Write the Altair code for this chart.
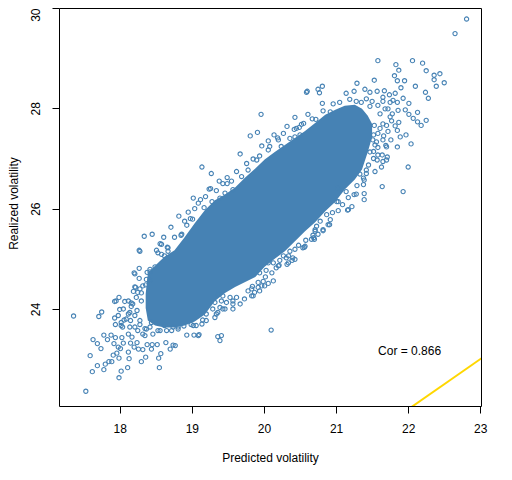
import altair as alt
import pandas as pd

# Scatter points (predicted, realized): scattered outer points
pred = [17.36,17.53,17.62,17.59,17.69,17.78,17.63,17.69,17.74,17.71,17.75,17.78,17.83,17.85,17.89,17.91,17.80,17.99,18.02,18.11,
        17.99,17.96,18.12,18.13,17.93,17.93,17.99,18.00,17.94,18.02,18.04,18.06,17.88,17.92,17.94,18.03,18.05,17.98,18.01,18.15,
        18.17,18.20,18.24,18.26,18.30,18.36,18.38,18.45,18.52,18.44,18.32,18.54,18.55,18.57,18.64,18.70,18.74,18.77,18.93,19.03,
        19.10,19.36,19.39,20.10,18.07,18.12,18.16,18.19,18.21,18.20,18.27,18.27,18.27,18.34,18.45,18.23,18.30,18.36,18.42,18.42,
        18.56,18.51,18.61,18.71,18.82,18.85,18.98,19.04,18.93,18.76,18.66,18.58,18.49,18.38,18.28,18.16,18.24,18.28,18.35,18.42,
        18.32,18.21,18.15,18.12,18.46,18.56,18.65,18.74,18.81,18.89,18.99,19.06,19.15,19.20,19.29,19.43,19.57,19.67,19.73,19.85,
        19.94,20.01,20.13,20.17,20.13,19.48,19.57,19.34,19.41,19.83,19.92,19.96,20.43,20.32,19.81,19.91,19.67,19.14,19.27,19.02,
        19.38,19.49,19.49,19.62,19.85,19.97,20.06,20.14,20.27,20.59,20.77,20.81,20.61,20.72,20.52,18.90,19.01,19.19,19.24,19.34,
        19.17,18.86,18.58,18.67,19.76,19.94,20.06,20.19,20.36,20.45,20.55,20.82,20.67,19.55,19.26,19.12,18.95,20.82,20.69,20.57,
        20.40,20.73,20.89,22.81,22.65,21.58,22.06,22.20,21.83,22.25,21.87,21.81,21.85,21.95,22.36,22.44,22.36,22.50,22.39,22.10,
        21.90,22.24,22.28,21.53,21.29,20.81,20.75,20.60,21.14,21.25,21.40,21.57,21.67,21.74,21.82,21.93,22.01,21.85,21.96,22.13,
        22.01,22.07,22.25,22.13,22.18,21.87,21.82,21.85,21.97,21.89,21.76,21.85,22.04,22.00,21.64,21.93,21.63,21.71,21.65,21.58,
        21.58,21.69,21.66,21.72,21.61,21.70,21.77,21.78,21.68,21.75,21.65,21.50,21.47,21.42,21.35,21.28,21.19,21.05,20.96,21.42,
        21.38,21.39,21.39,21.22,21.17,21.03,21.52,21.54,21.56,21.47,21.52,21.45,20.06,19.99,20.02,20.21,20.32,20.39,20.34,20.56,
        20.48,20.70,20.58,20.91,20.92,21.03,20.95,21.16,21.09,21.28,21.25,21.17,21.38,21.29,21.39,21.42,21.33,20.71,20.68,20.36,
        20.27,20.03,19.94,20.06,20.22,20.78,20.87,21.01,21.14,21.03]
real = [23.86,22.36,22.75,23.07,22.87,22.79,23.39,23.31,23.21,23.85,23.94,23.48,23.39,22.95,22.95,23.08,22.90,22.63,22.76,22.83,
        23.02,23.12,23.14,23.01,23.82,24.15,24.23,23.99,23.69,23.73,23.64,23.78,23.48,23.31,23.43,23.43,23.32,23.24,23.21,23.32,
        23.44,23.24,23.33,23.20,22.95,23.04,23.29,23.29,23.29,23.20,23.19,23.02,22.83,23.11,23.33,23.20,23.28,23.27,23.48,23.48,
        23.49,23.45,23.37,23.58,24.15,24.16,24.12,24.35,24.44,24.72,24.81,24.61,25.17,25.45,25.49,24.23,24.32,24.48,24.74,24.57,
        25.30,25.17,25.43,25.63,25.85,25.47,25.80,26.00,25.67,25.43,25.23,25.09,24.84,24.73,24.40,24.05,23.97,23.69,23.61,23.64,
        23.50,23.64,23.77,23.90,23.50,23.57,23.57,23.64,23.60,23.66,23.69,23.67,23.78,23.90,24.00,24.00,24.16,24.10,24.20,24.26,
        24.36,24.46,24.56,24.82,24.92,24.13,24.00,23.90,24.16,24.40,24.53,27.88,27.82,27.64,27.45,27.52,27.09,26.83,26.70,26.21,
        26.55,26.62,26.50,26.74,26.99,27.25,27.17,27.47,27.50,28.32,28.31,28.10,27.88,27.78,27.68,25.75,25.79,26.24,26.39,26.36,
        26.02,25.49,25.29,25.22,26.90,27.05,27.35,27.41,27.40,27.60,27.70,27.95,27.79,26.55,26.40,26.18,25.93,25.56,25.42,25.25,
        25.02,25.65,25.68,29.78,29.49,28.95,28.95,28.90,28.87,28.75,28.76,28.65,28.55,28.55,28.66,28.69,28.57,28.51,28.44,28.44,
        28.41,28.32,28.20,28.56,28.50,28.44,28.38,28.34,28.30,28.34,28.38,28.34,28.35,28.27,28.30,28.20,28.10,28.12,27.97,27.92,
        27.88,27.80,27.76,27.73,27.66,27.72,27.65,27.56,27.47,27.43,27.37,27.23,27.29,26.83,26.44,26.34,26.83,27.03,26.94,27.07,
        27.22,27.26,27.45,27.54,27.60,27.66,27.75,27.89,27.99,28.12,28.14,28.14,28.04,28.19,28.12,28.14,28.18,28.12,28.09,26.77,
        26.61,26.30,26.18,26.04,25.98,26.14,27.47,27.27,27.33,27.13,27.00,26.87,24.51,24.55,24.64,24.87,24.89,24.97,25.06,25.23,
        25.27,25.39,25.37,25.68,25.78,25.96,25.92,25.97,26.08,26.29,26.28,26.22,26.48,26.46,26.57,26.70,26.69,25.55,25.47,25.15,
        25.06,24.77,24.72,24.92,24.97,25.75,25.88,26.14,26.34,26.41]

# Points crowding the edges of the dense core
pred_edge = [18.21,18.22,18.32,18.25,17.95,18.18,18.30,18.05,18.14,17.98,18.09,18.21,18.28,18.02,18.14,18.25,18.37,18.44,18.53,18.62,
             18.72,18.81,19.02,19.09,19.14,19.20,19.32,19.36,19.41,18.35,18.12,18.53,18.62,18.67,18.42,18.37,18.28,
             21.47,21.65,21.79,21.58,21.72,21.86,21.61,21.75,21.65,21.53,21.58,21.51,21.65,21.70,21.52,21.64,21.57,21.70,21.54,20.92,
             20.42,20.49,19.43,19.09,20.08,20.20,20.24,20.43,20.50,19.78,19.90,19.69,19.57,19.46,19.28,19.39,
             19.84,19.78,19.83,19.62,19.53,19.57,19.46,19.39,19.32,19.43,19.36,19.92,20.34,20.43,20.31,20.54,20.66,20.75,20.82,20.71,
             20.43,20.20,20.11,19.97,19.87]
real_edge = [24.70,24.43,24.46,24.33,24.16,24.10,24.16,24.00,23.93,23.87,23.80,23.87,23.77,23.67,23.64,23.57,23.60,23.73,23.57,23.67,
             23.57,23.64,23.67,23.47,23.70,23.77,23.83,23.93,23.47,23.47,23.50,25.12,25.06,25.15,24.79,24.59,25.15,
             28.32,28.22,28.16,28.06,27.99,27.96,27.89,27.83,27.69,27.66,27.50,27.37,27.37,27.23,27.14,27.07,26.97,26.97,26.74,27.93,
             27.58,27.62,26.50,26.11,27.24,27.37,27.24,27.43,27.47,26.77,26.97,26.64,26.38,26.31,26.14,26.21,
             24.45,24.36,24.26,24.23,24.23,24.10,24.00,24.03,24.13,24.26,24.30,24.43,24.92,24.99,25.02,25.22,25.39,25.49,25.58,25.58,
             25.19,24.86,24.72,24.46,24.33]

# Dense core of the cloud (where the circles merge into a solid mass)
core_x  = [18.36,18.39,18.49,18.62,18.76,18.90,19.04,19.18,19.32,19.46,19.60,19.74,19.88,20.01,20.15,20.29,20.43,20.57,20.71,20.85,
           20.99,21.12,21.26,21.36,21.44,21.50]
core_lo = [24.02,23.77,23.67,23.63,23.63,23.67,23.75,23.89,24.16,24.32,24.44,24.54,24.64,24.84,25.00,25.15,25.35,25.55,25.73,25.95,
           26.14,26.38,26.58,26.78,27.13,27.43]
core_hi = [24.30,24.72,24.86,25.04,25.17,25.43,25.71,25.97,26.17,26.28,26.42,26.62,26.80,26.98,27.13,27.27,27.41,27.55,27.71,27.87,
           27.97,28.05,28.07,27.99,27.85,27.69]

# 45-degree reference line and annotation
diag_x = [22.0, 23.1]
diag_y = [22.0, 23.1]
cor_label = ["Cor = 0.866"]
cor_x = [22.02]
cor_y = [23.17]

x_ticks = [18, 19, 20, 21, 22, 23]
y_ticks = [24, 26, 28, 30]

BLUE = "#4682B4"
FONT = "Liberation Sans"

xscale = alt.Scale(domain=[17.158, 23.01], nice=False, zero=False)
yscale = alt.Scale(domain=[22.066, 30.0], nice=False, zero=False)

xaxis = alt.Axis(values=x_ticks, format="d", title="Predicted volatility", domain=False, grid=False,
                 tickSize=7, tickColor="black", tickWidth=1, labelColor="black", labelFont=FONT,
                 labelFontSize=12, labelPadding=10, labelFlush=False, titleFont=FONT, titleFontSize=12,
                 titleFontWeight="normal", titleColor="black", titleY=55, titleBaseline="alphabetic")
yaxis = alt.Axis(values=y_ticks, format="d", title="Realized volatility", domain=False, grid=False,
                 tickSize=7, tickColor="black", tickWidth=1, labelColor="black", labelFont=FONT,
                 labelFontSize=12, labelPadding=10, labelFlush=False, labelAngle=270,
                 labelAlign={"condition": {"test": "datum.value >= 30", "value": "right"}, "value": "center"},
                 labelBaseline="bottom", titleFont=FONT, titleFontSize=12, titleFontWeight="normal",
                 titleColor="black", titleAngle=270, titleAlign="center", titleBaseline="alphabetic",
                 titleX=-42, titleY=195)

pts_df = pd.DataFrame({"x": pred + pred_edge, "y": real + real_edge})
core_df = pd.DataFrame({"x": core_x, "y": core_lo, "y2": core_hi})
diag_df = pd.DataFrame({"x": diag_x, "y": diag_y})
txt_df = pd.DataFrame({"x": cor_x, "y": cor_y, "t": cor_label})

X = alt.X("x:Q", scale=xscale, axis=xaxis)
Y = alt.Y("y:Q", scale=yscale, axis=yaxis)

core = alt.Chart(core_df).mark_area(color=BLUE, opacity=1, clip=True).encode(x=X, y=Y, y2="y2:Q")
pts = alt.Chart(pts_df).mark_point(shape="circle", filled=False, size=18, strokeWidth=1.1,
                                   color=BLUE, opacity=1, clip=True).encode(x=X, y=Y)
diag = alt.Chart(diag_df).mark_line(color="#FFD700", strokeWidth=2, clip=True).encode(x=X, y=Y)
txt = alt.Chart(txt_df).mark_text(font=FONT, fontSize=12, color="black", align="center",
                                  baseline="middle").encode(x=X, y=Y, text="t:N")

chart = alt.layer(core, pts, diag, txt).properties(
    width=422, height=398,
    padding={"left": 51, "top": 0, "right": 20, "bottom": 70},
    autosize=alt.AutoSizeParams(type="none"),
    background="white",
).configure_view(stroke="black", strokeWidth=1)

chart.save("out.html", embed_options={"renderer": "svg", "actions": False})
